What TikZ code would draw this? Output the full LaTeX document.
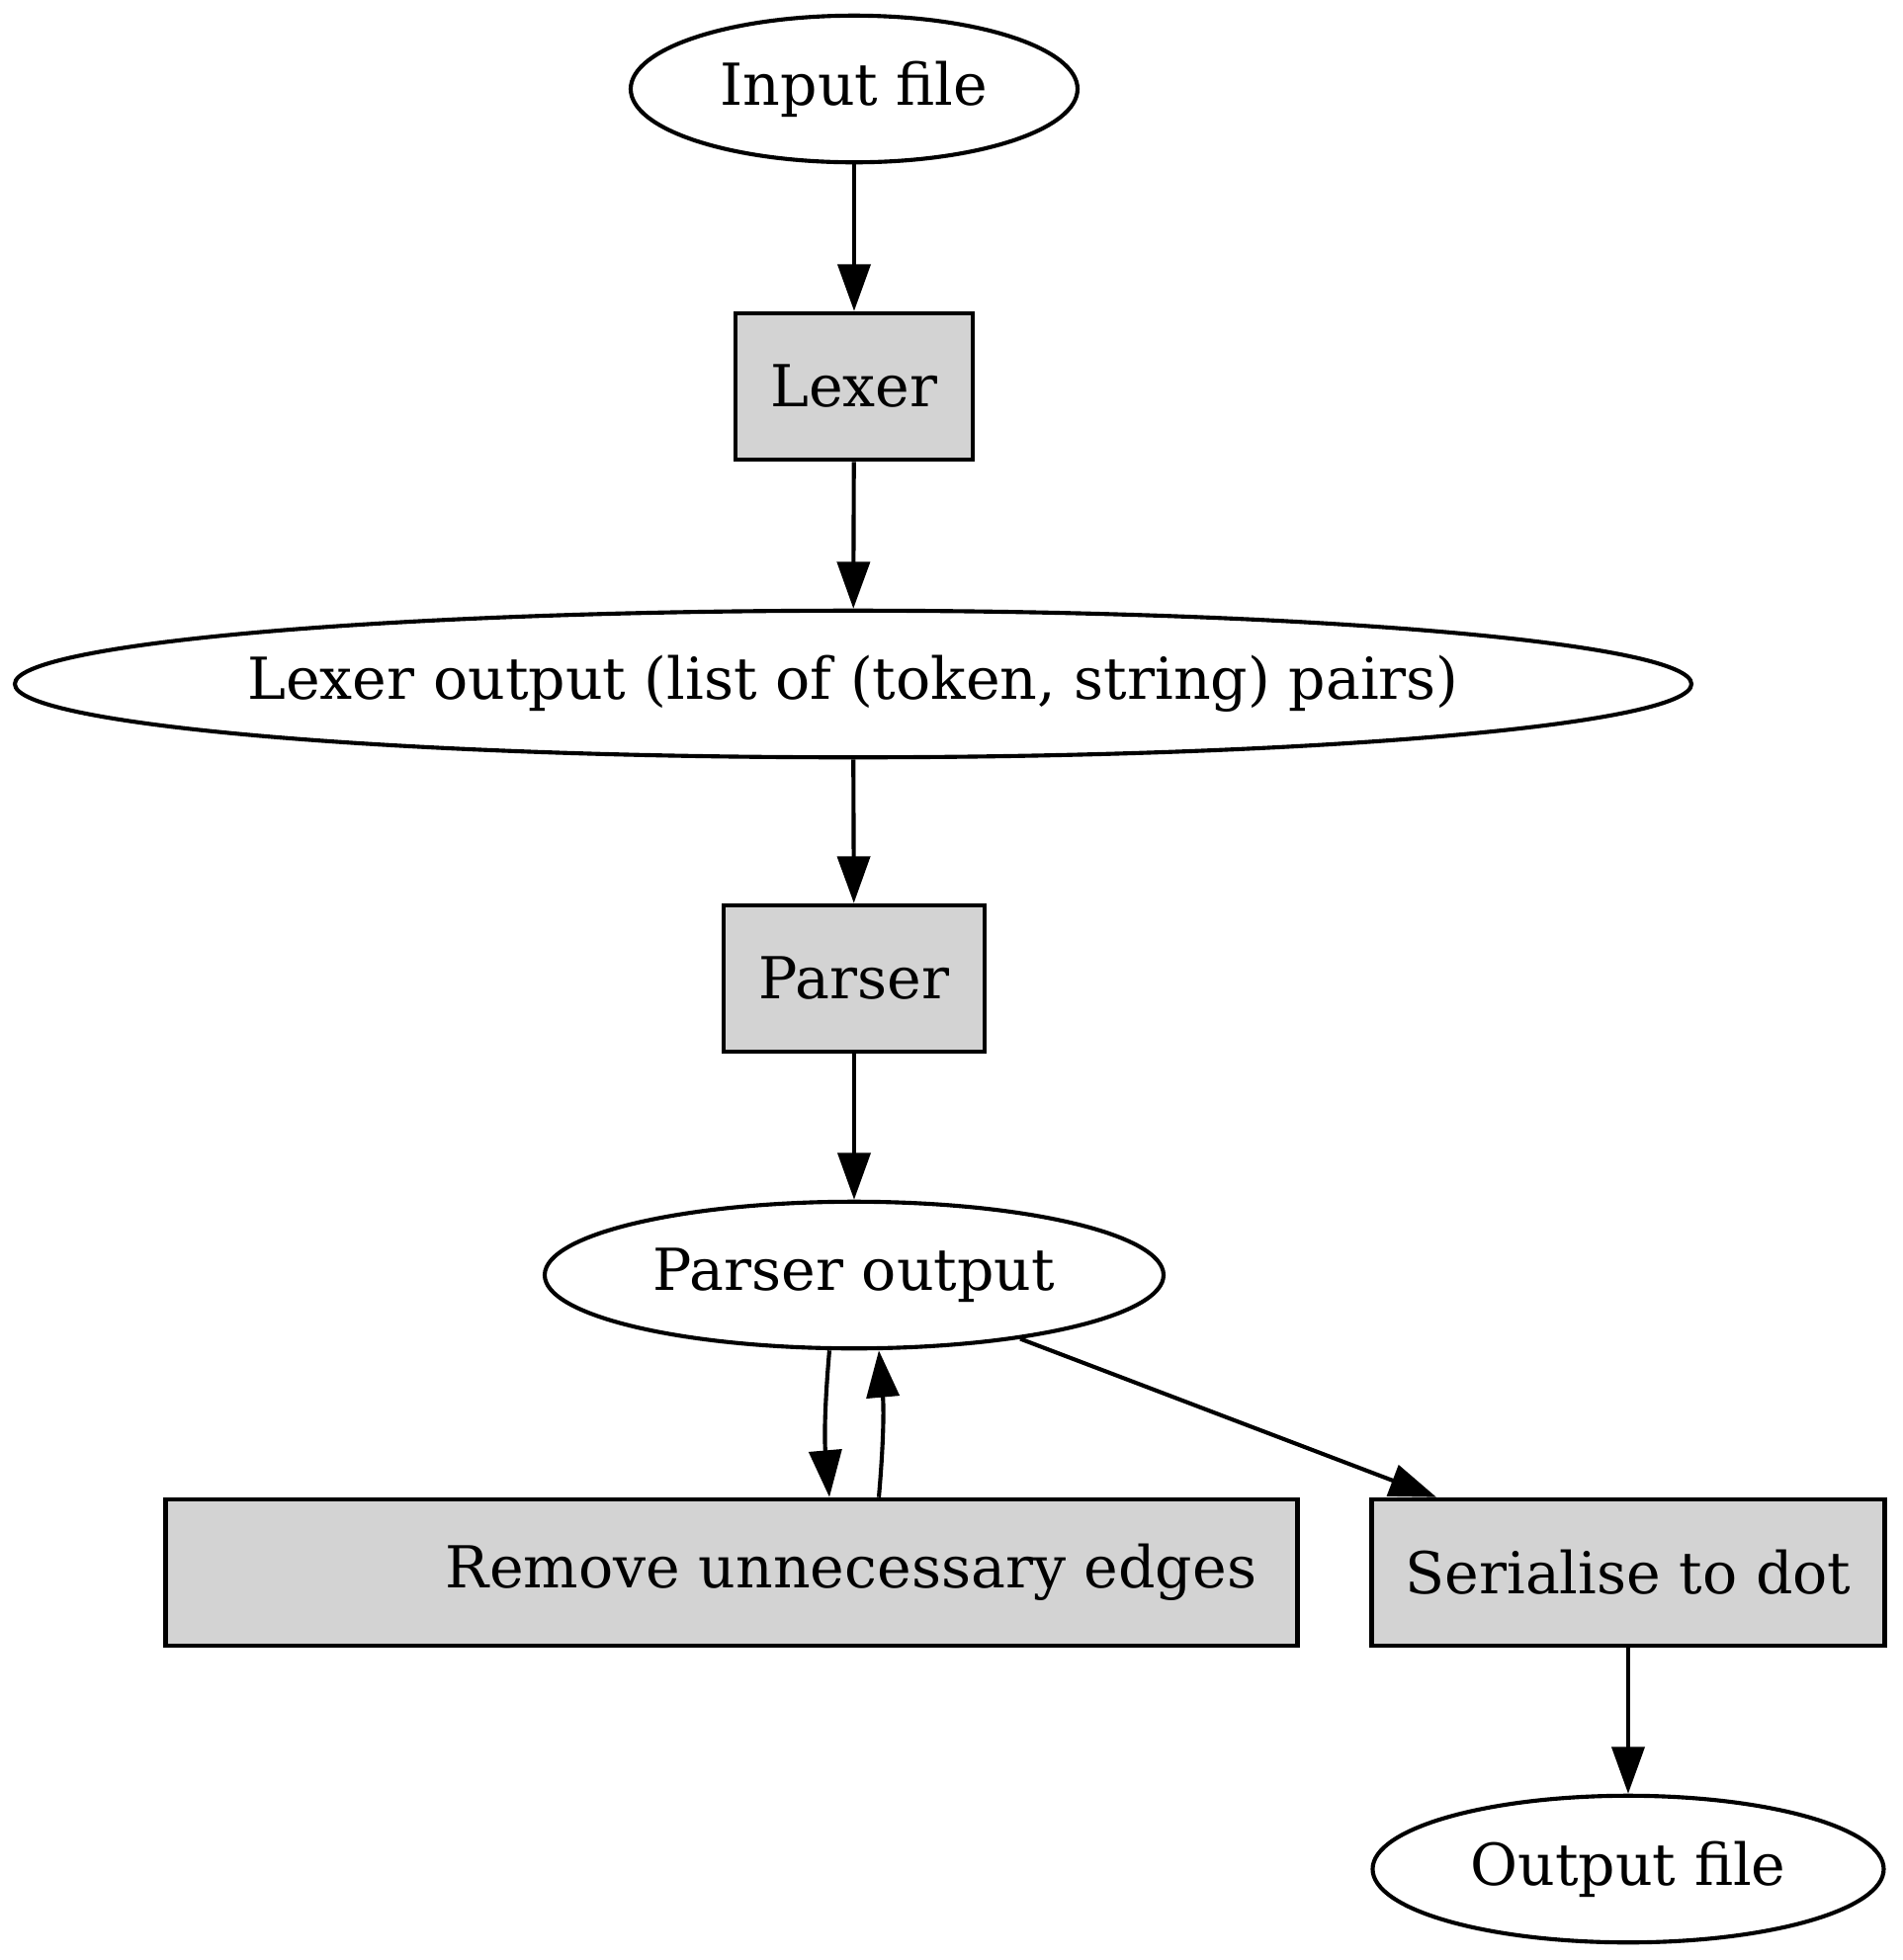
\documentclass[tikz,border=0pt]{standalone}
\usepackage{fontspec}
\setmainfont{DejaVu Serif}
\usetikzlibrary{shapes.geometric,arrows.meta}
\newcommand{\px}{0.2425pt}
\begin{document}
\begin{tikzpicture}[x=0.2425pt,y=-0.2425pt,
  every node/.style={font=\fontsize{14.2pt}{16pt}\selectfont, inner sep=0pt, line width=1pt, draw},
  ell/.style={ellipse, minimum height=36pt},
  boxnode/.style={rectangle, fill={rgb,255:red,211;green,211;blue,211}, minimum height=36pt},
  edge/.style={line width=1pt, -{Triangle[length=11.5pt,width=8pt]}}]
\useasboundingbox (0,0) rectangle (1925,1983);
\node[ell, minimum width=452*\px] (in) at (864,90) {\makebox[0pt]{Input file}};
\node[boxnode, minimum width=240*\px] (lex) at (864,391) {Lexer};
\node[ell, minimum width=1696*\px] (lo) at (863,692) {\makebox[0pt]{Lexer output (list of (token, string) pairs)}};
\node[boxnode, minimum width=264*\px] (par) at (864,990) {Parser};
\node[ell, minimum width=626*\px] (po) at (864,1290) {\makebox[0pt]{Parser output}};
\node[boxnode, minimum width=1145*\px] (rm) at (740,1591) {\hspace*{58.7pt}Remove unnecessary edges};
\node[boxnode, minimum width=519*\px] (ser) at (1647,1591) {Serialise to dot};
\node[ell, minimum width=517*\px] (out) at (1647,1891) {\makebox[0pt]{Output file}};
\draw[edge] (in) -- (lex);
\draw[edge] (lex) -- (lo);
\draw[edge] (lo) -- (par);
\draw[edge] (par) -- (po);
\draw[edge] ([xshift=-25*\px]po.south) to[bend right=5] ([xshift=99*\px]rm.north);
\draw[edge] ([xshift=149*\px]rm.north) to[bend right=5] ([xshift=25*\px]po.south);
\draw[edge] (po.-21.4) -- ([xshift=-194*\px]ser.north);
\draw[edge] (ser) -- (out);
\end{tikzpicture}
\end{document}
